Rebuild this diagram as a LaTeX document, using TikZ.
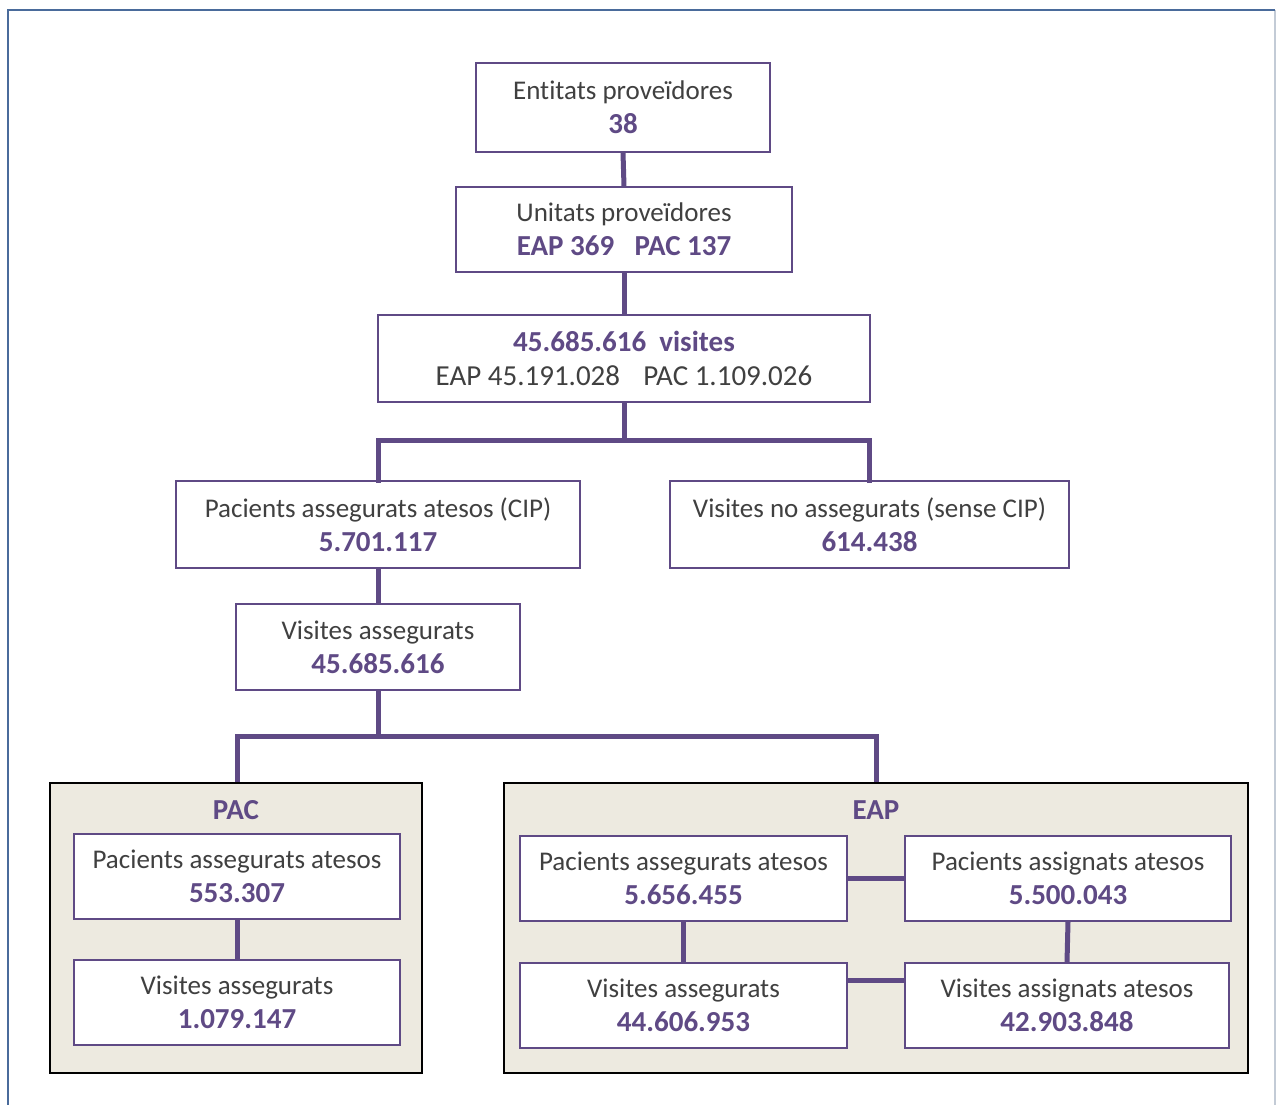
\documentclass[tikz,border=0pt]{standalone}
\usepackage{fontspec}
\setmainfont{Carlito}[Ligatures=NoCommon]
\definecolor{pur}{HTML}{5F4A85}
\definecolor{txt}{HTML}{404040}
\definecolor{tan}{HTML}{EDEAE0}
\definecolor{frameblue}{HTML}{4A6B9B}
\definecolor{framegray}{HTML}{C3CBD6}
\begin{document}
\begin{tikzpicture}[x=1pt,y=-1pt,
  box/.style={draw=pur, line width=1.2pt, fill=white, inner sep=0pt, align=center, text=txt,
    font=\fontsize{27}{34}\selectfont},
  grp/.style={draw=black, line width=1.6pt, fill=tan, inner sep=0pt},
  conn/.style={draw=pur, line width=5pt},
  lbl/.style={font=\fontsize{29}{34}\selectfont\bfseries, text=pur, inner sep=0pt}]
\newcommand{\nb}[1]{\textcolor{pur}{\fontsize{29}{34}\selectfont\textbf{#1}}}
\useasboundingbox (0,0) rectangle (1276,1104);
\fill[white] (0,0) rectangle (1276,1104);
% outer frame
\draw[framegray, line width=1.5pt] (1275,10) -- (1275,1110);
\draw[frameblue, line width=2pt] (8,1110) -- (8,10) -- (1275,10);

% group boxes
\node[grp, minimum width=372pt, minimum height=290pt] (pacg) at (236,928) {};
\node[grp, minimum width=744pt, minimum height=290pt] (eapg) at (876,928) {};

\coordinate (j1) at (624,440);
\coordinate (j2) at (378,736);

\node[box, minimum width=294pt, minimum height=89pt] (ent) at (623,107.5) {Entitats proveïdores\\\nb{38}};
\node[box, minimum width=336pt, minimum height=85pt] (uni) at (624,229.5) {Unitats proveïdores\\\nb{EAP 369\hspace{0.7em}PAC 137}};
\node[box, minimum width=492pt, minimum height=87pt] (vis) at (624,358.5) {\nb{45.685.616\hspace{0.45em}visites}\\{\fontsize{29}{34}\selectfont EAP 45.191.028\hspace{0.8em}PAC 1.109.026}};
\node[box, minimum width=404pt, minimum height=87pt] (cip) at (378,524.5) {Pacients assegurats atesos (CIP)\\\nb{5.701.117}};
\node[box, minimum width=399pt, minimum height=87pt] (nocip) at (869.5,524.5) {Visites no assegurats (sense CIP)\\\nb{614.438}};
\node[box, minimum width=284pt, minimum height=86pt] (vass) at (378,647) {Visites assegurats\\\nb{45.685.616}};

\node[lbl] (paclbl) at (236,810) {PAC};
\node[lbl] (eaplbl) at (876,810) {EAP};

\node[box, minimum width=326pt, minimum height=85pt] (pacp) at (237,876.5) {Pacients assegurats atesos\\\nb{553.307}};
\node[box, minimum width=326pt, minimum height=85pt] (pacv) at (237,1002.5) {Visites assegurats\\\nb{1.079.147}};
\node[box, minimum width=327pt, minimum height=85pt] (eapp) at (683.5,878.5) {Pacients assegurats atesos\\\nb{5.656.455}};
\node[box, minimum width=326pt, minimum height=85pt] (eapa) at (1068,878.5) {Pacients assignats atesos\\\nb{5.500.043}};
\node[box, minimum width=327pt, minimum height=85pt] (eapv) at (683.5,1005.5) {Visites assegurats\\\nb{44.606.953}};
\node[box, minimum width=324pt, minimum height=85pt] (eapva) at (1067,1005.5) {Visites assignats atesos\\\nb{42.903.848}};

% connectors
\draw[conn] (ent.south) -- (uni.north);
\draw[conn] (uni.south) -- (vis.north);
\draw[conn] (vis.south) -- (j1);
\draw[conn, line cap=rect] (cip.north) |- (j1) -| (nocip.north);
\draw[conn] (cip.south) -- (vass.north);
\draw[conn] (vass.south) -- (j2);
\draw[conn] (pacg.north -| pacp.north) |- (j2) -| (eapg.north);
\draw[conn] (pacp.south) -- (pacv.north);
\draw[conn] (eapp.south) -- (eapv.north);
\draw[conn] (eapa.south) -- (eapva.north);
\draw[conn] (eapp.east) -- (eapa.west);
\draw[conn] (eapv.east |- 0,980) -- (eapva.west |- 0,980);
\end{tikzpicture}
\end{document}
